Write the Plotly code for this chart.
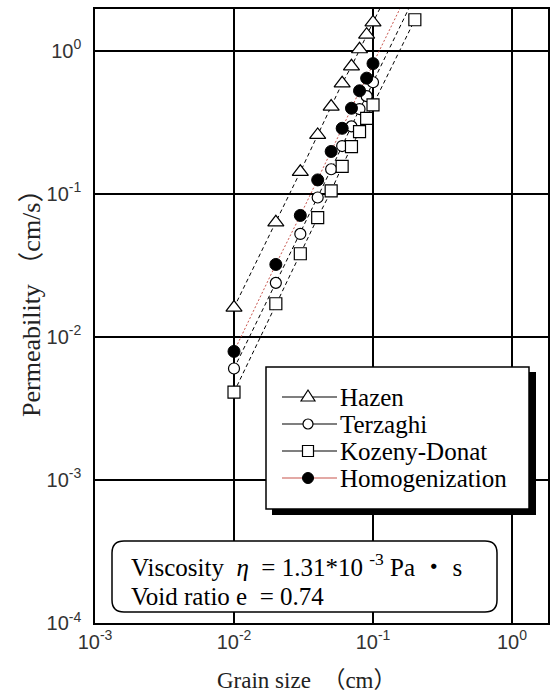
import plotly.graph_objects as go

# ---- data ----
grain = [0.01, 0.02, 0.03, 0.04, 0.05, 0.06, 0.07, 0.08, 0.09, 0.1, 0.2]
hazen = [0.016, 0.063, 0.142, 0.257, 0.406, 0.59, 0.775, 1.02, 1.29, 1.57, 6.2]
terzaghi = [0.006, 0.0238, 0.0523, 0.094, 0.148, 0.215, 0.295, 0.39, 0.48, 0.6, 2.4]
kozeny = [0.0041, 0.017, 0.038, 0.068, 0.1045, 0.155, 0.213, 0.271, 0.336, 0.417, 1.64]
homog = [0.0079, 0.032, 0.0704, 0.1247, 0.197, 0.286, 0.395, 0.523, 0.641, 0.81, 3.2]

series_names = ["Hazen", "Terzaghi", "Kozeny-Donat", "Homogenization"]
x_tickvals = [0.001, 0.01, 0.1, 1]
x_ticktext = ["10<sup>-3</sup>", "10<sup>-2</sup>", "10<sup>-1</sup>", "10<sup>0</sup>"]
y_tickvals = [0.0001, 0.001, 0.01, 0.1, 1]
y_ticktext = ["10<sup>-4</sup>", "10<sup>-3</sup>", "10<sup>-2</sup>", "10<sup>-1</sup>", "10<sup>0</sup>"]

W, H = 553, 693
L, R, T, B = 95, 5, 9, 70
PW, PH = W - L - R, H - T - B


def px(x):
    return (x - L) / PW


def py(y):
    return (H - B - y) / PH


SERIF = "Liberation Serif, Times New Roman, Noto Sans CJK JP, serif"
DASH = "4px,3px"

fig = go.Figure()
fig.add_trace(go.Scatter(
    x=grain, y=hazen, name=series_names[0], mode="lines+markers",
    line=dict(color="black", width=1, dash=DASH),
    marker=dict(symbol="triangle-up", size=14, color="white", line=dict(color="black", width=1.2))))
fig.add_trace(go.Scatter(
    x=grain, y=terzaghi, name=series_names[1], mode="lines+markers",
    line=dict(color="black", width=1, dash=DASH),
    marker=dict(symbol="circle", size=11, color="white", line=dict(color="black", width=1.2))))
fig.add_trace(go.Scatter(
    x=grain, y=kozeny, name=series_names[2], mode="lines+markers",
    line=dict(color="black", width=1, dash=DASH),
    marker=dict(symbol="square", size=12, color="white", line=dict(color="black", width=1.2))))
fig.add_trace(go.Scatter(
    x=grain, y=homog, name=series_names[3], mode="lines+markers",
    line=dict(color="#c8554d", width=1, dash="2px,2px"),
    marker=dict(symbol="circle", size=12, color="black", line=dict(color="black", width=1))))

shapes = []
annotations = []

# ---- legend (drawn manually) ----
lx0, ly0, lx1, ly1 = 266, 367, 529, 509
shapes.append(dict(type="rect", xref="paper", yref="paper", x0=px(lx0 + 6), x1=px(lx1 + 7),
                   y0=py(ly1 + 6), y1=py(ly0 + 5), fillcolor="black", line=dict(width=0), layer="above"))
shapes.append(dict(type="rect", xref="paper", yref="paper", x0=px(lx0), x1=px(lx1),
                   y0=py(ly1), y1=py(ly0), fillcolor="white", line=dict(color="black", width=1.5), layer="above"))
rows = [397, 424, 451, 478]
for i, (name, yy) in enumerate(zip(series_names, rows)):
    lc = "#c8554d" if i == 3 else "black"
    shapes.append(dict(type="line", xref="paper", yref="paper", x0=px(282), x1=px(337),
                       y0=py(yy), y1=py(yy), line=dict(color=lc, width=1.2), layer="above"))
    cx = 308
    if i == 0:
        path = "M {} {} L {} {} L {} {} Z".format(px(cx - 7), py(yy + 4), px(cx + 7), py(yy + 4), px(cx), py(yy - 7))
        shapes.append(dict(type="path", xref="paper", yref="paper", path=path,
                           fillcolor="white", line=dict(color="black", width=1.2), layer="above"))
    elif i == 1:
        shapes.append(dict(type="circle", xref="paper", yref="paper", x0=px(cx - 5), x1=px(cx + 5),
                           y0=py(yy + 5), y1=py(yy - 5), fillcolor="white",
                           line=dict(color="black", width=1.2), layer="above"))
    elif i == 2:
        shapes.append(dict(type="rect", xref="paper", yref="paper", x0=px(cx - 5.5), x1=px(cx + 5.5),
                           y0=py(yy + 5.5), y1=py(yy - 5.5), fillcolor="white",
                           line=dict(color="black", width=1.2), layer="above"))
    else:
        shapes.append(dict(type="circle", xref="paper", yref="paper", x0=px(cx - 5.5), x1=px(cx + 5.5),
                           y0=py(yy + 5.5), y1=py(yy - 5.5), fillcolor="black",
                           line=dict(color="black", width=1), layer="above"))
    annotations.append(dict(xref="paper", yref="paper", x=px(338), y=py(yy), text=name,
                            showarrow=False, xanchor="left", yanchor="middle",
                            font=dict(family=SERIF, size=25, color="black")))

# ---- info box (rounded) ----
bx0, by0, bx1, by1, r = 112, 541, 497, 612, 12
pts = [
    ("M", (bx0 + r, by0)), ("L", (bx1 - r, by0)), ("Q", (bx1, by0), (bx1, by0 + r)),
    ("L", (bx1, by1 - r)), ("Q", (bx1, by1), (bx1 - r, by1)), ("L", (bx0 + r, by1)),
    ("Q", (bx0, by1), (bx0, by1 - r)), ("L", (bx0, by0 + r)), ("Q", (bx0, by0), (bx0 + r, by0)),
]
parts = []
for p in pts:
    cmd = p[0]
    coords = " ".join("{:.5f},{:.5f}".format(px(a), py(b)) for a, b in p[1:])
    parts.append(cmd + " " + coords)
path = " ".join(parts) + " Z"
shapes.append(dict(type="path", xref="paper", yref="paper", path=path, fillcolor="white",
                   line=dict(color="black", width=1.5), layer="above"))
annotations.append(dict(xref="paper", yref="paper", x=px(129), y=py(565),
                        text="Viscosity  <i>η</i>  = 1.31*10 <sup>-3</sup> Pa ・ s",
                        showarrow=False, xanchor="left", yanchor="middle",
                        font=dict(family=SERIF, size=25, color="black")))
annotations.append(dict(xref="paper", yref="paper", x=px(129), y=py(596),
                        text="Void ratio e  = 0.74",
                        showarrow=False, xanchor="left", yanchor="middle",
                        font=dict(family=SERIF, size=25, color="black")))

# ---- axis titles ----
annotations.append(dict(xref="paper", yref="paper", x=px(306), y=py(680),
                        text="Grain size  （cm）", showarrow=False,
                        xanchor="center", yanchor="middle",
                        font=dict(family=SERIF, size=23, color="#222")))
annotations.append(dict(xref="paper", yref="paper", x=px(31), y=py(297),
                        text="Permeability （cm/s）", showarrow=False, textangle=-90,
                        xanchor="center", yanchor="middle",
                        font=dict(family=SERIF, size=26, color="#222")))

axis_common = dict(
    type="log", showgrid=True, gridcolor="black", gridwidth=1.5,
    showline=True, linecolor="black", linewidth=1.5, mirror=True,
    zeroline=False, ticks="", tickfont=dict(family="Liberation Sans, Arial, sans-serif", size=20, color="#333"),
)
fig.update_xaxes(range=[-3, 0.259], tickvals=x_tickvals, ticktext=x_ticktext, **axis_common)
fig.update_yaxes(range=[-4, 0.29], tickvals=y_tickvals, ticktext=y_ticktext,
                 ticklabelstandoff=8, **axis_common)

fig.update_layout(
    width=W, height=H,
    margin=dict(l=L, r=R, t=T, b=B, autoexpand=False),
    paper_bgcolor="white", plot_bgcolor="white",
    showlegend=False, shapes=shapes, annotations=annotations,
)

fig.write_html("out.html")
